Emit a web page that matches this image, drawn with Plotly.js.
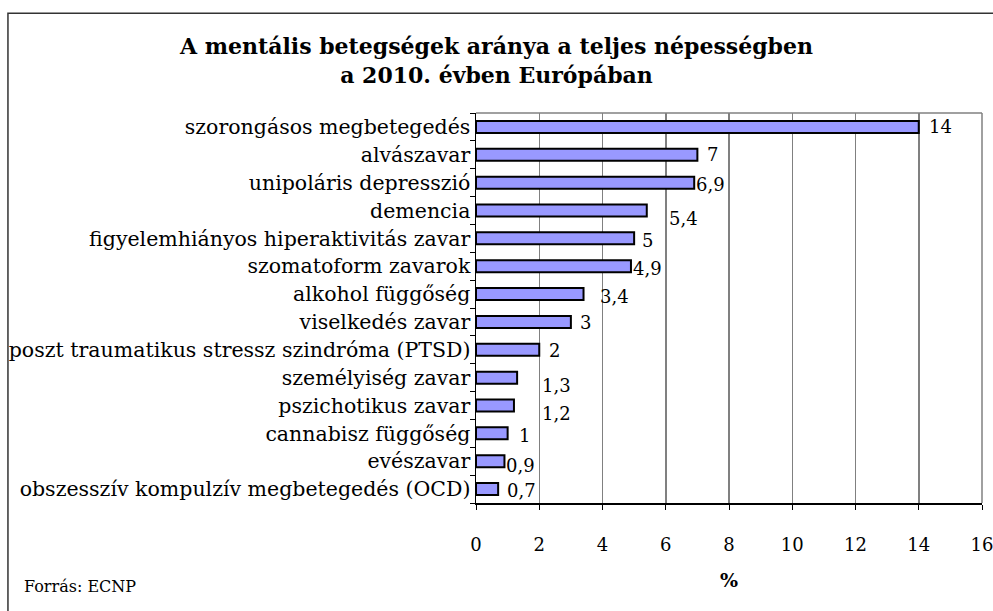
<!DOCTYPE html>
<html>
<head>
<meta charset="utf-8">
<script src="https://cdn.plot.ly/plotly-3.0.1.min.js"></script>
<style>html,body{margin:0;padding:0;background:#fff;}#chart{width:993px;height:611px;}</style>
</head>
<body>
<div id="chart"></div>
<script>
const categories = [
  "szorongásos megbetegedés",
  "alvászavar",
  "unipoláris depresszió",
  "demencia",
  "figyelemhiányos hiperaktivitás zavar",
  "szomatoform zavarok",
  "alkohol függőség",
  "viselkedés zavar",
  "poszt traumatikus stressz szindróma (PTSD)",
  "személyiség zavar",
  "pszichotikus zavar",
  "cannabisz függőség",
  "evészavar",
  "obszesszív kompulzív megbetegedés (OCD)"
];
const values = [14, 7, 6.9, 5.4, 5, 4.9, 3.4, 3, 2, 1.3, 1.2, 1, 0.9, 0.7];
const valueLabels = ["14", "7", "6,9", "5,4", "5", "4,9", "3,4", "3", "2", "1,3", "1,2", "1", "0,9", "0,7"];
const xTicks = [0, 2, 4, 6, 8, 10, 12, 14, 16];

// label nudges (px) to mimic the original label placement
const labelDx = [8, 8, 0, 20, 6, 0, 14, 7, 8, 23, 26, 9, 0, 7];
const labelDy = [0, 0, -2, -8, -2, -2, -2, -1, -1, -8, -8, -2, -4, -1];

const serif = "DejaVu Serif, Liberation Serif, serif";

const trace = {
  type: "bar",
  orientation: "h",
  x: values,
  y: categories,
  marker: {color: "#9999FF", line: {color: "#000", width: 2}},
  hoverinfo: "none"
};

const valueAnnotations = values.map((v, i) => ({
  x: v, y: categories[i], xref: "x", yref: "y",
  text: valueLabels[i], showarrow: false,
  xanchor: "left", yanchor: "middle",
  xshift: labelDx[i], yshift: labelDy[i],
  font: {family: serif, size: 18, color: "#000"}
}));

const layout = {
  width: 993,
  height: 611,
  margin: {l: 476, r: 11, t: 113, b: 108},
  paper_bgcolor: "#fff",
  plot_bgcolor: "#fff",
  showlegend: false,
  bargap: 0.57,
  title: {
    text: "<b>A mentális betegségek aránya a teljes népességben<br>a 2010. évben Európában</b>",
    font: {family: serif, size: 22, color: "#000"},
    x: 0.5, xref: "container", xanchor: "center",
    y: 0.911, yref: "container", yanchor: "top"
  },
  xaxis: {
    range: [0, 16],
    tickvals: xTicks,
    ticktext: xTicks.map(String),
    showgrid: true,
    gridcolor: "#808080",
    gridwidth: 1.5,
    zeroline: false,
    showline: true,
    linecolor: "#000",
    linewidth: 1.5,
    ticks: "outside",
    ticklen: 5,
    tickcolor: "#000",
    ticklabelstandoff: 20,
    ticklabeloverflow: "allow",
    automargin: false,
    tickfont: {family: serif, size: 18, color: "#000"},
    title: {text: "<b>%</b>", font: {family: serif, size: 19, color: "#000"}, standoff: 19},
    fixedrange: true
  },
  yaxis: {
    type: "category",
    categoryorder: "array",
    categoryarray: categories.slice().reverse(),
    autorange: false,
    range: [-0.5, categories.length - 0.5],
    showgrid: false,
    zeroline: false,
    showline: true,
    linecolor: "#000",
    linewidth: 1.5,
    ticks: "outside",
    tickson: "boundaries",
    ticklen: 5,
    tickcolor: "#000",
    tickfont: {family: serif, size: 20.5, color: "#000"},
    fixedrange: true
  },
  shapes: [
    {type: "line", xref: "paper", yref: "paper", x0: 0, x1: 1, y0: 1, y1: 1, line: {color: "#808080", width: 1.5}},
    {type: "line", xref: "paper", yref: "paper", x0: 1, x1: 1, y0: 0, y1: 1, line: {color: "#808080", width: 1.5}},
    {type: "rect", xref: "paper", yref: "paper", x0: -0.925, x1: 1.2, y0: -0.5, y1: 1.256, line: {color: "#333", width: 1.5}, fillcolor: "rgba(0,0,0,0)"}
  ],
  annotations: valueAnnotations.concat([
    {text: "Forrás: ECNP", xref: "paper", yref: "paper", x: -0.897, y: -0.215, xanchor: "left", yanchor: "middle", showarrow: false, font: {family: serif, size: 16, color: "#000"}}
  ])
};

Plotly.newPlot("chart", [trace], layout, {displayModeBar: false, staticPlot: true});
</script>
</body>
</html>
